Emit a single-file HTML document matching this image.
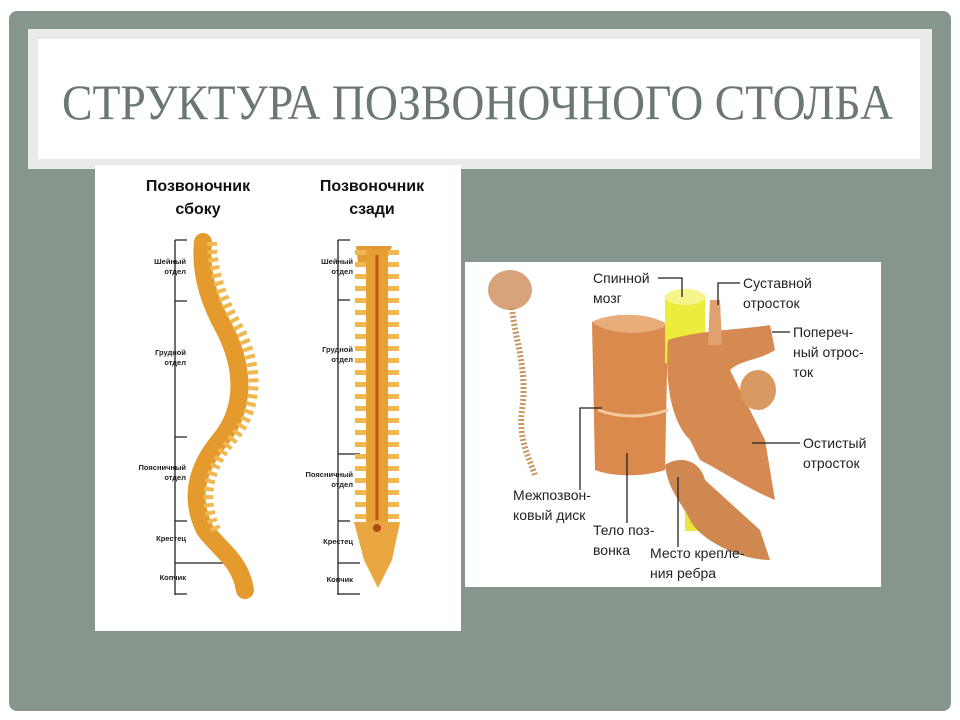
<!DOCTYPE html>
<html><head><meta charset="utf-8"><style>
html,body{margin:0;padding:0;background:#fff;}
svg{display:block}
</style></head><body>
<svg width="960" height="720" viewBox="0 0 960 720" xmlns="http://www.w3.org/2000/svg">
<rect x="0" y="0" width="960" height="720" fill="#ffffff"/>
<rect x="9" y="11" width="942" height="700" rx="8" fill="#86968d"/>
<rect x="28" y="29" width="904" height="140" fill="#e9ebea"/>
<rect x="38" y="39" width="882" height="120" fill="#ffffff"/>
<text x="62" y="119" font-family="Liberation Serif, serif" font-size="50" fill="#6b7870" textLength="831" lengthAdjust="spacingAndGlyphs">СТРУКТУРА ПОЗВОНОЧНОГО СТОЛБА</text>

<!-- left image -->
<rect x="95" y="165" width="366" height="466" fill="#ffffff"/>
<g font-family="Liberation Sans, sans-serif" font-weight="bold" font-size="16" fill="#111" text-anchor="middle">
<text x="198" y="191">Позвоночник</text><text x="198" y="214">сбоку</text>
<text x="372" y="191">Позвоночник</text><text x="372" y="214">сзади</text>
</g>
<g stroke="#222" stroke-width="1.3" fill="none">
<path d="M175 240V595 M175 240h12 M175 301h12 M175 437h12 M175 521h12 M175 563h65 M175 594h12"/>
<path d="M338 240V595 M338 240h12 M338 300h12 M338 454h22 M338 521h12 M338 563h22 M338 594h22"/>
</g>
<g font-family="Liberation Sans, sans-serif" font-weight="bold" font-size="7.5" fill="#222" text-anchor="end">
<text x="186" y="264">Шейный</text><text x="186" y="274">отдел</text>
<text x="186" y="355">Грудной</text><text x="186" y="365">отдел</text>
<text x="186" y="470">Поясничный</text><text x="186" y="480">отдел</text>
<text x="186" y="541">Крестец</text><text x="186" y="580">Копчик</text>
<text x="353" y="264">Шейный</text><text x="353" y="274">отдел</text>
<text x="353" y="352">Грудной</text><text x="353" y="362">отдел</text>
<text x="353" y="477">Поясничный</text><text x="353" y="487">отдел</text>
<text x="353" y="544">Крестец</text><text x="353" y="582">Копчик</text>
</g>
<!-- side spine -->
<path d="M203 242 C200 270,208 300,225 330 C245 370,245 410,220 440 C195 470,190 500,205 530 C220 550,240 560,245 590" stroke="#e49a2c" stroke-width="18" fill="none" stroke-linecap="round"/>
<path d="M212 242 C212 270,222 300,240 330 C260 370,258 410,232 440 C207 470,202 500,216 530" stroke="#f0b850" stroke-width="10" fill="none" stroke-dasharray="4 4"/>
<!-- back spine -->
<path d="M356 246 L392 246 L386 262 L358 262 Z" fill="#e39a35"/>
<path d="M377 250 V525" stroke="#f0b850" stroke-width="44" fill="none" stroke-dasharray="5 7"/>
<path d="M377 250 V525" stroke="#e8a035" stroke-width="22" fill="none"/>
<path d="M377 255 V520" stroke="#c0561a" stroke-width="3" fill="none"/>
<path d="M354 522 L400 522 L392 560 L378 588 L364 560 Z" fill="#eaa640"/>
<circle cx="377" cy="528" r="4" fill="#b04a10"/>

<!-- right image -->
<rect x="465" y="262" width="416" height="325" fill="#ffffff"/>
<ellipse cx="510" cy="290" rx="22" ry="20" fill="#d8a27a"/>
<path d="M512 308 C515 340,528 370,522 410 C518 440,530 460,535 475" stroke="#c8965e" stroke-width="6" fill="none" stroke-dasharray="2 2"/>
<path d="M592 322 C610 312,650 312,668 325 L665 470 C640 478,610 476,595 470 Z" fill="#d98a4c"/>
<path d="M592 322 C610 312,650 312,668 325 C650 336,610 336,592 322 Z" fill="#e8ad7a"/>
<path d="M598 410 C620 418,645 418,668 410" stroke="#f2c9a0" stroke-width="3" fill="none"/>
<rect x="665" y="295" width="40" height="68" fill="#ecec3c"/>
<ellipse cx="685" cy="297" rx="20" ry="8" fill="#f5f58a"/>
<rect x="685" y="495" width="32" height="36" fill="#e8e83c"/>
<path d="M668 340 C700 330,740 330,770 325 L775 350 C760 360,740 360,730 370 L765 440 L775 500 C750 490,720 470,700 460 L690 440 C670 420,665 380,668 340 Z" fill="#d48a50"/>
<path d="M665 465 C680 455,700 460,705 480 L760 530 L770 560 C740 560,700 540,690 520 C680 500,668 490,665 465 Z" fill="#cf8850"/>
<ellipse cx="758" cy="390" rx="18" ry="20" fill="#d99a62"/>
<path d="M710 300 L720 300 L722 345 L708 345 Z" fill="#e0a070"/>
<g stroke="#222" stroke-width="1.3" fill="none">
<path d="M658 278H682V297 M718 305V283H740 M772 332H790 M752 443H800 M602 408H580V490 M627 453V523 M678 477V547"/>
</g>
<g font-family="Liberation Sans, sans-serif" font-size="14" fill="#222">
<text x="593" y="283">Спинной</text><text x="593" y="303">мозг</text>
<text x="743" y="288">Суставной</text><text x="743" y="308">отросток</text>
<text x="793" y="337">Попереч-</text><text x="793" y="357">ный отрос-</text><text x="793" y="377">ток</text>
<text x="803" y="448">Остистый</text><text x="803" y="468">отросток</text>
<text x="513" y="500">Межпозвон-</text><text x="513" y="520">ковый диск</text>
<text x="593" y="535">Тело поз-</text><text x="593" y="555">вонка</text>
<text x="650" y="558">Место крепле-</text><text x="650" y="578">ния ребра</text>
</g>
</svg>
</body></html>
